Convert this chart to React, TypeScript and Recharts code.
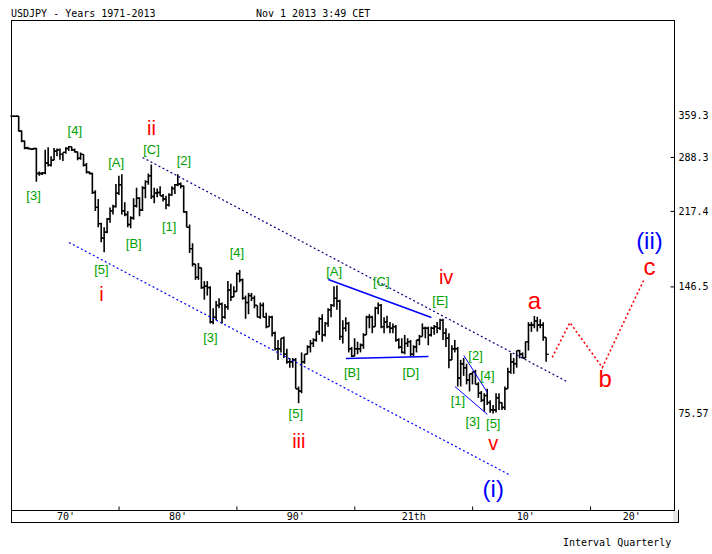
import * as React from 'react';
import {
    ComposedChart,
    Bar,
    Line,
    XAxis,
    YAxis,
    ReferenceLine,
    ReferenceDot
} from 'recharts';

// quarterly bars, 1971Q1 onwards; the axis runs on to 2027Q1 for the projection
const FIRST_YEAR = 1971;
const CATEGORY_COUNT = 225;

// one line per year, four quarters each
const open = [
    357.8, 357.7, 357.6, 331,
    314, 303, 302, 301,
    302, 265, 265, 266,
    280, 277, 284, 298,
    300, 293, 296, 302,
    305, 300, 297, 287,
    293, 277, 267, 265,
    240, 222, 204, 189,
    195, 209, 218, 223,
    239, 250, 218, 214,
    203, 210, 224, 233,
    219, 246, 254, 262,
    235, 239, 240, 236,
    232, 225, 237, 245,
    250, 251, 248, 217,
    200, 179, 165, 154,
    162, 146, 147, 146,
    122, 125, 133, 134,
    125, 132, 144, 139,
    143, 157, 152, 138,
    135, 140, 138, 133,
    125, 133, 125, 119,
    125, 115, 106, 106,
    112, 103, 99, 99,
    100, 86, 85, 99,
    103, 107, 109, 111,
    116, 124, 114, 121,
    130, 133, 138, 136,
    113, 118, 121, 106,
    102, 106, 106, 108,
    114, 125, 125, 119,
    131, 133, 119, 122,
    119, 118, 119, 111,
    107, 104, 109, 110,
    103, 107, 111, 113,
    118, 118, 114, 118,
    119, 118, 123, 115,
    112, 100, 106, 106,
    91, 98, 96, 90,
    93, 94, 88, 84,
    81, 83, 80, 77,
    77, 82, 80, 78,
    86, 94, 99, 98,
    105, 103, 101, 110,
    120, 120, 122.5, 120,
    120, 112.5
];
const high = [
    358, 358, 358, 332,
    315, 305, 302, 303,
    303, 268, 267, 300,
    304, 290, 303, 302,
    302, 296, 304, 306,
    305, 302, 297, 296,
    293, 280, 268, 266,
    243, 232, 205, 200,
    210, 222, 225, 251,
    262, 264, 228, 218,
    212, 233, 246, 234,
    248, 256, 265, 278,
    246, 245, 248, 238,
    236, 239, 248, 251,
    264, 253, 249, 218,
    203, 184, 165, 166,
    162, 151, 151, 147,
    131, 136, 138, 135,
    134, 151, 149, 147,
    158, 160, 153, 140,
    142, 142, 140, 133,
    135, 135, 128, 126,
    126, 116, 111, 112,
    113, 106, 101, 101,
    101, 87, 104, 103,
    108, 111, 112, 116,
    125, 127, 122, 131,
    134, 147, 147.6, 137,
    123, 125, 122, 107,
    112, 110, 109, 115,
    126, 127, 126, 132,
    135, 134, 125, 126,
    122, 121, 120, 112,
    112, 114, 112, 111,
    108, 111, 114, 121,
    119, 119, 119, 120,
    122, 124, 124, 118,
    115, 108, 111, 107,
    100, 101, 98, 93,
    94, 95, 89, 85,
    84, 86, 81, 79,
    84, 84, 80, 87,
    96, 103.7, 101, 105,
    105.4, 104, 110, 121.8,
    122, 125.86, 125.3, 123.7,
    121.7, 112.5
];
const low = [
    357.4, 357.4, 330, 312,
    301, 301, 300, 300,
    254, 262, 263, 264,
    275, 275, 284, 290,
    285, 283, 294, 298,
    298, 296, 284, 285,
    275, 265, 264, 238,
    218, 200, 185, 175.5,
    194, 205, 214, 222,
    237, 214, 212, 200,
    199, 208, 222, 212,
    218, 233, 250, 232,
    227, 234, 236, 229,
    220, 223, 236, 238,
    248, 245, 216, 200,
    175, 163, 152, 152,
    145, 137, 140, 121,
    120.5, 123, 131, 121,
    124, 130, 136, 139,
    143, 150, 137, 124,
    127, 136, 131, 125,
    124, 125, 118, 119,
    113, 105, 100, 104,
    101, 98, 96, 96,
    86, 79.75, 84, 98,
    103, 104, 107, 110,
    114, 110, 113, 119,
    125, 132, 130, 111,
    109, 116, 104, 101.5,
    102, 103, 104, 106,
    114, 118, 115, 119,
    127, 118, 115, 118,
    115, 115, 110, 106,
    103.5, 103, 107, 101.8,
    102, 104, 108, 113,
    112, 108, 113, 114,
    115, 117, 111, 107,
    95.7, 100, 104, 87,
    87, 92, 88, 84.8,
    88, 88, 82, 80.2,
    76.3, 79, 75.9, 75.57,
    76, 77, 77, 77,
    86, 93, 93, 96,
    100.8, 100.8, 101, 105,
    115.8, 118, 116, 118,
    110.6, 99
];
const close = [
    357.7, 357.6, 331, 314,
    303, 302, 301, 302,
    265, 265, 266, 280,
    277, 284, 298, 300,
    293, 296, 302, 305,
    300, 297, 287, 293,
    277, 267, 265, 240,
    222, 204, 189, 195,
    209, 218, 223, 239,
    250, 218, 214, 203,
    210, 224, 233, 219,
    246, 254, 262, 235,
    239, 240, 236, 232,
    225, 237, 245, 250,
    251, 248, 217, 200,
    179, 165, 154, 162,
    146, 147, 146, 122,
    125, 133, 134, 125,
    132, 144, 139, 143,
    157, 152, 138, 135,
    140, 138, 133, 125,
    133, 125, 119, 125,
    115, 106, 106, 112,
    103, 99, 99, 100,
    86, 85, 99, 103,
    107, 109, 111, 116,
    124, 114, 121, 130,
    133, 138, 136, 113,
    118, 121, 106, 102,
    106, 106, 108, 114,
    125, 125, 119, 131,
    133, 119, 122, 119,
    118, 119, 111, 107,
    104, 109, 110, 103,
    107, 111, 113, 118,
    118, 114, 118, 119,
    118, 123, 115, 112,
    100, 106, 106, 91,
    98, 96, 90, 93,
    94, 88, 84, 81,
    83, 80, 77, 77,
    82, 80, 78, 86,
    94, 99, 98, 105,
    103, 101, 110, 120,
    120, 122.5, 120, 120,
    112.5, 103
];

const yTicks = [75.57, 146.5, 217.4, 288.3, 359.3];
const decadeStarts = [1980, 1990, 2000, 2010, 2020];
const decadeLabels = [
    { t: 1975.5, text: "70'" },
    { t: 1985, text: "80'" },
    { t: 1995, text: "90'" },
    { t: 2005, text: '21th' },
    { t: 2014.5, text: "10'" },
    { t: 2023.5, text: "20'" }
];

// wave counts, placed at (quarter, price)
const minorLabels = [
    { t: 1976.25, v: 332, text: '[4]' },
    { t: 1972.75, v: 236, text: '[3]' },
    { t: 1979.75, v: 281, text: '[A]' },
    { t: 1982.75, v: 301, text: '[C]' },
    { t: 1985.5, v: 284, text: '[2]' },
    { t: 1984.25, v: 201, text: '[1]' },
    { t: 1981.25, v: 184, text: '[B]' },
    { t: 1978.5, v: 160.5, text: '[5]' },
    { t: 1990, v: 175.4, text: '[4]' },
    { t: 1987.75, v: 112.4, text: '[3]' },
    { t: 1995, v: 75.6, text: '[5]' },
    { t: 1998.25, v: 158.8, text: '[A]' },
    { t: 2002.25, v: 150.7, text: '[C]' },
    { t: 1999.75, v: 93.6, text: '[B]' },
    { t: 2004.75, v: 93.6, text: '[D]' },
    { t: 2007.25, v: 136.4, text: '[E]' },
    { t: 2008.75, v: 80.9, text: '[1]' },
    { t: 2010.25, v: 102.3, text: '[2]' },
    { t: 2010, v: 72.5, text: '[3]' },
    { t: 2011.25, v: 92.2, text: '[4]' },
    { t: 2011.75, v: 71.7, text: '[5]' }
];
const romanLabels = [
    { t: 1982.75, v: 335.7, text: 'ii' },
    { t: 1978.5, v: 141.5, text: 'i' },
    { t: 1995.25, v: 65.6, text: 'iii' },
    { t: 2007.75, v: 153.9, text: 'iv' },
    { t: 2011.75, v: 64.6, text: 'v' }
];
const letterLabels = [
    { t: 2015.25, v: 136.4, text: 'a' },
    { t: 2021.25, v: 90.7, text: 'b' },
    { t: 2025, v: 163, text: 'c' }
];
const cycleLabels = [
    { t: 2011.75, v: 51.05, text: '(i)' },
    { t: 2025, v: 186.7, text: '(ii)' }
];

// trend lines
const channelUpper = [{ t: 1982, v: 288.2 }, { t: 2018, v: 89.3 }];
const channelLower = [{ t: 1975.75, v: 184.8 }, { t: 2013.25, v: 54.6 }];
const triangleTop = [{ t: 1997.75, v: 152.3 }, { t: 2006.5, v: 124.8 }];
const triangleBottom = [{ t: 1999.25, v: 100.7 }, { t: 2006.25, v: 101.8 }];
const wedgeTop = [{ t: 2009.25, v: 102.3 }, { t: 2011.25, v: 84.3 }];
const wedgeBottom = [{ t: 2008.5, v: 87 }, { t: 2011.25, v: 75.2 }];
const projection = [
    { t: 2016.75, v: 101.3 },
    { t: 2018.25, v: 121.6 },
    { t: 2021, v: 96.1 },
    { t: 2024.5, v: 151.5 }
];

const projByT = new Map(projection.map(p => [p.t, p.v]));
const rows = Array.from({ length: CATEGORY_COUNT }, (_, i) => {
    const t = FIRST_YEAR + i / 4;
    const row: any = { t };
    if (i < open.length) {
        row.o = open[i];
        row.h = high[i];
        row.l = low[i];
        row.c = close[i];
        row.range = [low[i], high[i]];
    }
    if (projByT.has(t)) row.proj = projByT.get(t);
    return row;
});

const MONO = '"DejaVu Sans Mono", monospace';
const SANS = '"Liberation Sans", Arial, sans-serif';

const OhlcBar = (props: any) => {
    const { x, y, width, height, payload } = props;
    if (!payload || payload.h == null || !isFinite(y) || !isFinite(height)) {
        return null;
    }
    const cx = x + width / 2;
    const top = Math.min(y, y + height);
    const bottom = Math.max(y, y + height);
    const span = Math.log(payload.h) - Math.log(payload.l);
    const at = (v: number) =>
        span > 0
            ? top + ((bottom - top) * (Math.log(payload.h) - Math.log(v))) / span
            : top;
    const yo = at(payload.o);
    const yc = at(payload.c);
    return (
        <g stroke="#000">
            <line x1={cx} x2={cx} y1={top} y2={Math.max(bottom, top + 1)} strokeWidth={1.6} />
            <line x1={cx - 2.5} x2={cx} y1={yo} y2={yo} strokeWidth={1.4} />
            <line x1={cx} x2={cx + 2.5} y1={yc} y2={yc} strokeWidth={1.4} />
        </g>
    );
};

const BottomTick = (props: any) => {
    const { x, y, payload } = props;
    const label = decadeLabels.find(d => d.t === payload.value);
    if (label) {
        return (
            <text x={x} y={y + 9} textAnchor="middle" fontFamily={MONO} fontSize={10} fill="#000">
                {label.text}
            </text>
        );
    }
    return <line x1={x} x2={x} y1={y - 4} y2={y} stroke="#000" />;
};

const TopTick = (props: any) => {
    const { x, y } = props;
    return <line x1={x} x2={x} y1={y} y2={y + 4} stroke="#000" />;
};

const RightTick = (props: any) => {
    const { x, y, payload } = props;
    const edge = payload.value === yTicks[0] || payload.value === yTicks[yTicks.length - 1];
    return (
        <g>
            {!edge && <line x1={x - 4} x2={x} y1={y} y2={y} stroke="#000" />}
            <text x={x + 4} y={y + 3.5} fontFamily={MONO} fontSize={10} fill="#000">
                {String(payload.value)}
            </text>
        </g>
    );
};

const textShape = (text: string, color: string, size: number) => (p: any) => (
    <text
        x={p.cx}
        y={p.cy}
        textAnchor="middle"
        dominantBaseline="central"
        fontFamily={SANS}
        fontSize={size}
        fill={color}
    >
        {text}
    </text>
);

const segment = (pts: { t: number; v: number }[]) => pts.map(p => ({ x: p.t, y: p.v }));

const box = (extra: React.CSSProperties): React.CSSProperties => ({
    position: 'absolute',
    boxSizing: 'border-box',
    pointerEvents: 'none',
    ...extra
});

const App = () => {
    return (
        <div style={{ position: 'absolute', left: 0, top: 0, width: 712, height: 554, background: '#fff' }}>
            <ComposedChart
                width={712}
                height={554}
                data={rows}
                margin={{ top: 20.5, right: 1.5, bottom: 31.5, left: 11.5 }}
            >
                <XAxis
                    dataKey="t"
                    type="category"
                    height={12}
                    ticks={[...decadeStarts, ...decadeLabels.map(d => d.t)]}
                    interval={0}
                    axisLine={false}
                    tickLine={false}
                    tickSize={0}
                    tickMargin={0}
                    tick={<BottomTick />}
                />
                <XAxis
                    xAxisId="top"
                    dataKey="t"
                    type="category"
                    orientation="top"
                    height={0}
                    ticks={decadeStarts}
                    interval={0}
                    axisLine={false}
                    tickLine={false}
                    tickSize={0}
                    tickMargin={0}
                    tick={<TopTick />}
                />
                <YAxis
                    orientation="right"
                    type="number"
                    scale="log"
                    domain={[45.5, 590]}
                    allowDataOverflow
                    ticks={yTicks}
                    interval={0}
                    width={36}
                    axisLine={false}
                    tickLine={false}
                    tickSize={0}
                    tickMargin={0}
                    tick={<RightTick />}
                />
                <ReferenceLine segment={segment(channelUpper)} stroke="#000080" strokeWidth={1.2} strokeDasharray="2 2.5" />
                <ReferenceLine segment={segment(channelLower)} stroke="#0000ff" strokeWidth={1.2} strokeDasharray="2 2.5" />
                <ReferenceLine segment={segment(triangleTop)} stroke="#0000ff" strokeWidth={1.5} />
                <ReferenceLine segment={segment(triangleBottom)} stroke="#0000ff" strokeWidth={1.5} />
                <ReferenceLine segment={segment(wedgeTop)} stroke="#0000ff" strokeWidth={1} />
                <ReferenceLine segment={segment(wedgeBottom)} stroke="#0000ff" strokeWidth={1} />
                <Bar dataKey="range" shape={<OhlcBar />} isAnimationActive={false} />
                <Line
                    dataKey="proj"
                    stroke="#ff0000"
                    strokeWidth={1.6}
                    strokeDasharray="2 2.5"
                    dot={false}
                    activeDot={false}
                    connectNulls
                    isAnimationActive={false}
                />
                {minorLabels.map((d, i) => (
                    <ReferenceDot key={`m-${i}`} x={d.t} y={d.v} r={0} shape={textShape(d.text, '#00a000', 13)} />
                ))}
                {romanLabels.map((d, i) => (
                    <ReferenceDot key={`r-${i}`} x={d.t} y={d.v} r={0} shape={textShape(d.text, '#ff0000', 20)} />
                ))}
                {letterLabels.map((d, i) => (
                    <ReferenceDot key={`l-${i}`} x={d.t} y={d.v} r={0} shape={textShape(d.text, '#ff0000', 24)} />
                ))}
                {cycleLabels.map((d, i) => (
                    <ReferenceDot key={`c-${i}`} x={d.t} y={d.v} r={0} shape={textShape(d.text, '#0000ff', 24)} />
                ))}
            </ComposedChart>
            {/* plot frame */}
            <div style={box({ left: 11, top: 20, width: 664, height: 491, border: '1px solid #000' })} />
            {/* date strip under the plot */}
            <div
                style={box({
                    left: 11,
                    top: 510,
                    width: 668,
                    height: 13,
                    borderLeft: '1px solid #000',
                    borderRight: '1px solid #000',
                    borderBottom: '1px solid #000'
                })}
            >
                <div style={{ position: 'absolute', right: 0, top: 1, width: 5, bottom: 0, background: '#e6e6e6' }} />
            </div>
            <div style={{ position: 'absolute', left: 11, top: 8, font: `10px/12px ${MONO}`, whiteSpace: 'pre' }}>
                USDJPY - Years 1971-2013
            </div>
            <div style={{ position: 'absolute', left: 256, top: 8, font: `10px/12px ${MONO}`, whiteSpace: 'pre' }}>
                Nov 1 2013 3:49 CET
            </div>
            <div style={{ position: 'absolute', left: 563, top: 537, font: `10px/12px ${MONO}`, whiteSpace: 'pre' }}>
                Interval Quarterly
            </div>
        </div>
    );
};

export default App;
